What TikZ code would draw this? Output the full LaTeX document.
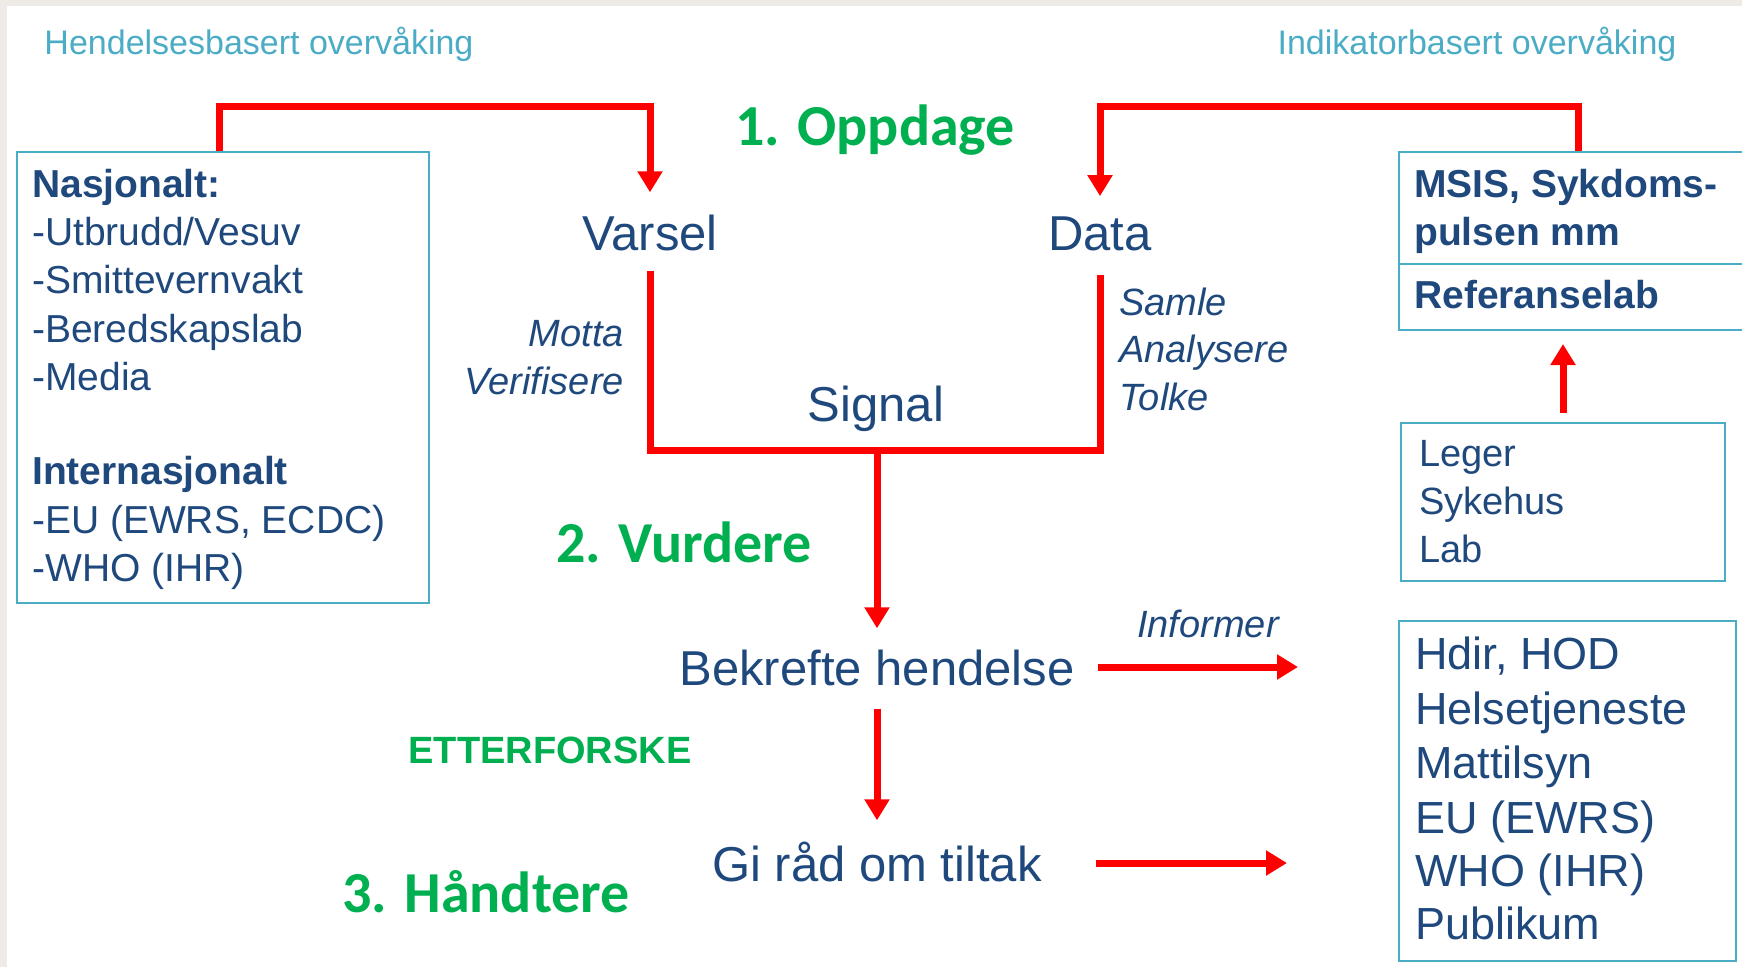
\documentclass[tikz,border=0pt]{standalone}
\usepackage{fontspec}
\setmainfont{Liberation Sans}
\newfontfamily\titlefont{Carlito}
\usetikzlibrary{arrows.meta,calc}

\definecolor{bgray}{HTML}{EEEBE6}
\definecolor{boxcyan}{HTML}{4BACC6}
\definecolor{txtblue}{HTML}{1F497D}
\definecolor{phasegreen}{HTML}{00B050}

\tikzset{
  frame/.style={draw=boxcyan, line width=2pt, inner sep=0pt, anchor=north west},
  head/.style={text=boxcyan, font=\fontsize{34}{40}\selectfont, inner sep=0pt, anchor=base},
  phase/.style={text=phasegreen, font=\titlefont\bfseries\fontsize{58}{68}\selectfont, inner sep=0pt, anchor=base},
  lbl/.style={text=txtblue, font=\fontsize{49}{58}\selectfont, inner sep=0pt, anchor=base},
  verb/.style={text=txtblue, font=\itshape\fontsize{38}{46}\selectfont, inner sep=0pt},
  item/.style={text=txtblue, font=\fontsize{39}{48}\selectfont, inner sep=0pt, anchor=base west},
  link/.style={draw=red, line width=7pt},
  flow/.style={link, -{Triangle[width=24pt,length=21pt]}},
}

\begin{document}
\begin{tikzpicture}[x=1pt, y=-1pt]
  \useasboundingbox (0,0) rectangle (1742,967);
  \fill[bgray] (0,0) rectangle (1742,967);
  \fill[white] (7,6) rectangle (1742,967);

  % Coordinates
  \coordinate (nwbend) at (219,106);
  \coordinate (nebend) at (1578,106);
  \coordinate (sigjoin) at (877,450);
  \coordinate (infend) at (1298,667);
  \coordinate (tiltakend) at (1287,863);

  % Headers and phases
  \node[head] (hend) at (259,54) {Hendelsesbasert overvåking};
  \node[head] (indik) at (1477,54) {Indikatorbasert overvåking};
  \node[phase] (oppdage) at (875,145) {1. Oppdage};
  \node[phase] (vurdere) at (684,562) {2. Vurdere};
  \node[phase] (handtere) at (486,912) {3. Håndtere};
  \node[text=phasegreen, font=\bfseries\fontsize{38}{44}\selectfont, inner sep=0pt, anchor=base] (etter) at (550,763) {ETTERFORSKE};

  % Flow labels
  \node[lbl] (varsel) at (650,250) {Varsel};
  \node[lbl] (data) at (1100,250) {Data};
  \node[lbl] (signal) at (876,421) {Signal};
  \node[lbl] (bekrefte) at (877,685) {Bekrefte hendelse};
  \node[lbl] (giraad) at (877,881) {Gi råd om tiltak};
  \node[verb, anchor=base east] (motta) at (624,346) {Motta};
  \node[verb, anchor=base east] (verif) at (624,394) {Verifisere};
  \node[verb, anchor=base west] (samle) at (1119,315) {Samle};
  \node[verb, anchor=base west] (analys) at (1119,362) {Analysere};
  \node[verb, anchor=base west] (tolke) at (1119,410) {Tolke};
  \node[verb, anchor=base] (informer) at (1208,637) {Informer};

  % Boxes
  \node[frame, minimum width=412pt, minimum height=451pt] (nasjbox) at (16,151) {};
  \node[frame, minimum width=350pt, minimum height=112pt] (msisbox) at (1398,151) {};
  \node[frame, minimum width=350pt, minimum height=66pt] (refbox) at (1398,263) {};
  \node[frame, minimum width=324pt, minimum height=158pt] (legerbox) at (1400,422) {};
  \node[frame, minimum width=337pt, minimum height=340pt] (mottakbox) at (1398,620) {};

  \node[item, font=\bfseries\fontsize{39}{48}\selectfont] (nasj) at (32,197) {Nasjonalt:};
  \node[item] (utbrudd) at (32,245) {-Utbrudd/Vesuv};
  \node[item] (smitte) at (32,293) {-Smittevernvakt};
  \node[item] (bered) at (32,342) {-Beredskapslab};
  \node[item] (media) at (32,390) {-Media};
  \node[item, font=\bfseries\fontsize{39}{48}\selectfont] (intern) at (32,484) {Internasjonalt};
  \node[item] (eu) at (32,533) {-EU (EWRS, ECDC)};
  \node[item] (who) at (32,581) {-WHO (IHR)};

  \node[item, font=\bfseries\fontsize{39}{48}\selectfont] (msis) at (1414,197) {MSIS, Sykdoms-};
  \node[item, font=\bfseries\fontsize{39}{48}\selectfont] (pulsen) at (1414,245) {pulsen mm};
  \node[item, font=\bfseries\fontsize{39}{48}\selectfont] (reflab) at (1414,308) {Referanselab};

  \node[item, font=\fontsize{38}{48}\selectfont] (leger) at (1419,466) {Leger};
  \node[item, font=\fontsize{38}{48}\selectfont] (sykehus) at (1419,514) {Sykehus};
  \node[item, font=\fontsize{38}{48}\selectfont] (lab) at (1419,562) {Lab};

  \node[item, font=\fontsize{45}{54}\selectfont] (hdir) at (1415,669) {Hdir, HOD};
  \node[item, font=\fontsize{45}{54}\selectfont] (helse) at (1415,724) {Helsetjeneste};
  \node[item, font=\fontsize{45}{54}\selectfont] (matt) at (1415,778) {Mattilsyn};
  \node[item, font=\fontsize{45}{54}\selectfont] (euewrs) at (1415,833) {EU (EWRS)};
  \node[item, font=\fontsize{45}{54}\selectfont] (whoihr) at (1415,886) {WHO (IHR)};
  \node[item, font=\fontsize{45}{54}\selectfont] (publikum) at (1415,939) {Publikum};

  % Connectors
  \draw[flow] (nasjbox.north -| nwbend) -- (nwbend) -| ([yshift=22pt]varsel.north);
  \draw[flow] (msisbox.north -| nebend) -- (nebend) -| ([yshift=20pt]data.north);
  \draw[link] ([yshift=-20pt]varsel.south) |- (sigjoin) -| ([yshift=-24pt]data.south);
  \draw[flow] (sigjoin) -- ([yshift=21pt]bekrefte.north);
  \draw[flow] ([yshift=-23pt]bekrefte.south) -- ([yshift=21pt]giraad.north);
  \draw[flow] ($(bekrefte.east |- infend)+(23,0)$) -- (infend);
  \draw[flow] ($(giraad.east |- tiltakend)+(54,0)$) -- (tiltakend);
  \draw[flow] ([yshift=9pt]legerbox.north) -- ($(legerbox.north |- refbox.south)+(0,13)$);
\end{tikzpicture}
\end{document}
